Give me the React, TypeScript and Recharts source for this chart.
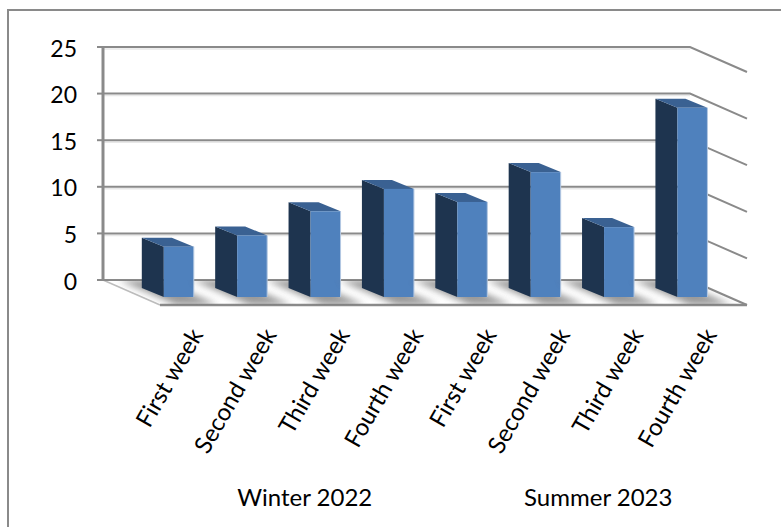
import { BarChart, Bar, XAxis, YAxis, CartesianGrid } from "recharts";

const WEEKS = [
  "First week",
  "Second week",
  "Third week",
  "Fourth week",
  "First week",
  "Second week",
  "Third week",
  "Fourth week",
];
const SEASONS = [
  "Winter 2022",
  "Winter 2022",
  "Winter 2022",
  "Winter 2022",
  "Summer 2023",
  "Summer 2023",
  "Summer 2023",
  "Summer 2023",
];
const VALUES = [5.4, 6.6, 9.2, 11.6, 10.2, 13.4, 7.5, 20.3];
const Y_TICKS = [0, 5, 10, 15, 20, 25];

const data = WEEKS.map((week, i) => ({ week, season: SEASONS[i], value: VALUES[i] }));

const LINE = "#8a8a8a";
const FONT = "Lato, sans-serif";
// how far the floor runs towards the viewer
const DEPTH_X = 57;
const DEPTH_Y = 25;

function GridLine(props: any) {
  const { x1, x2, y1 } = props;
  const isFloor = y1 > 270;
  const right = `${x2},${y1} ${x2 + DEPTH_X},${y1 + DEPTH_Y}`;
  if (!isFloor) {
    return (
      <g fill="none">
        <line x1={x1} x2={x2} y1={y1 + 2} y2={y1 + 2} stroke="#e8e8e8" strokeWidth={1.5} />
        <polyline points={`${x1},${y1} ${right}`} stroke={LINE} strokeWidth={2} />
      </g>
    );
  }
  const floor = `${x1},${y1} ${x2},${y1} ${x2 + DEPTH_X},${y1 + DEPTH_Y} ${x1 + DEPTH_X},${y1 + DEPTH_Y}`;
  return (
    <g>
      <clipPath id="floorClip">
        <polygon points={floor} />
      </clipPath>
      <polygon points={floor} fill="#fff" />
      <line x1={x1} x2={x1 + DEPTH_X} y1={y1} y2={y1 + DEPTH_Y} stroke="#bdbdbd" strokeWidth={1.5} />
      <line x1={x1} x2={x2} y1={y1} y2={y1} stroke={LINE} strokeWidth={2} />
      <line x1={x2} x2={x2 + DEPTH_X} y1={y1} y2={y1 + DEPTH_Y} stroke={LINE} strokeWidth={2} />
      <line x1={x1 + DEPTH_X} x2={x2 + DEPTH_X} y1={y1 + DEPTH_Y} y2={y1 + DEPTH_Y} stroke={LINE} strokeWidth={2.5} />
    </g>
  );
}

// box with side and top faces, plus its soft shadow on the floor
function Box(props: any) {
  const { x, y, width, height } = props;
  const base = y + height;
  const backX = x + 16.8;
  const frontX = x + 38.8;
  const backY = 8;
  const frontY = 17;
  const pad = 6;
  return (
    <g>
      <g clipPath="url(#floorClip)">
        <polygon
          points={`${x - pad},${base} ${x + width + pad},${base} ${x + width + pad + DEPTH_X},${base + DEPTH_Y} ${x - pad + DEPTH_X},${base + DEPTH_Y}`}
          fill="#777"
          opacity={0.75}
          filter="url(#floorBlur)"
        />
      </g>
      <polygon
        points={`${backX},${y + backY} ${frontX},${y + frontY} ${frontX},${base + frontY} ${backX},${base + backY}`}
        fill="#1E344F"
      />
      <polygon
        points={`${backX},${y + backY} ${backX + width},${y + backY} ${frontX + width},${y + frontY} ${frontX},${y + frontY}`}
        fill="#3A6192"
      />
      <rect x={frontX} y={y + frontY} width={width} height={height} fill="#4F81BD" />
      <line x1={frontX + width} x2={frontX + width} y1={y + frontY} y2={base + frontY} stroke="#B4C8E2" strokeWidth={1} />
    </g>
  );
}

function WeekTick(props: any) {
  const { x, y, payload } = props;
  const ax = x + DEPTH_X - 1;
  const ay = y + 42;
  return (
    <text
      x={ax}
      y={ay}
      transform={`rotate(-60 ${ax} ${ay})`}
      textAnchor="end"
      dominantBaseline="central"
      fontFamily={FONT}
      fontSize={24}
      fill="#000"
    >
      {payload.value}
    </text>
  );
}

function SeasonTick(props: any) {
  const { x, y, payload } = props;
  return (
    <text x={x + DEPTH_X - 2} y={y - 2} textAnchor="middle" dominantBaseline="central" fontFamily={FONT} fontSize={24} fill="#000">
      {payload.value}
    </text>
  );
}

export default function App() {
  return (
    <div style={{ position: "absolute", left: 0, top: 0, width: 781, height: 527, background: "#fff", overflow: "hidden" }}>
      <div style={{ position: "absolute", left: 7, top: 9, right: -4, bottom: -4, borderLeft: `2px solid ${LINE}`, borderTop: `2px solid ${LINE}` }} />
      <div style={{ position: "absolute", left: 0, top: 0 }}>
        <BarChart
          width={781}
          height={527}
          data={data}
          margin={{ top: 47, right: 91, bottom: 0, left: 43 }}
          barSize={30}
        >
          <defs>
            <filter id="floorBlur" x="-30%" y="-60%" width="160%" height="220%">
              <feGaussianBlur stdDeviation="3.5" />
            </filter>
          </defs>
          <CartesianGrid vertical={false} horizontal={GridLine} />
          <XAxis dataKey="week" height={210} axisLine={false} tickLine={false} interval={0} tick={WeekTick} />
          <XAxis
            xAxisId="season"
            dataKey="season"
            allowDuplicatedCategory={false}
            height={37}
            axisLine={false}
            tickLine={false}
            interval={0}
            tick={SeasonTick}
          />
          <YAxis
            width={60}
            domain={[0, 25]}
            ticks={Y_TICKS}
            interval={0}
            axisLine={{ stroke: LINE, strokeWidth: 3 }}
            tickLine={{ stroke: LINE, strokeWidth: 2 }}
            tickSize={6}
            tickMargin={20}
            tick={{ fontFamily: FONT, fontSize: 23, fill: "#000", dy: 1.5 }}
          />
          <Bar dataKey="value" shape={Box} isAnimationActive={false} />
        </BarChart>
      </div>
    </div>
  );
}
